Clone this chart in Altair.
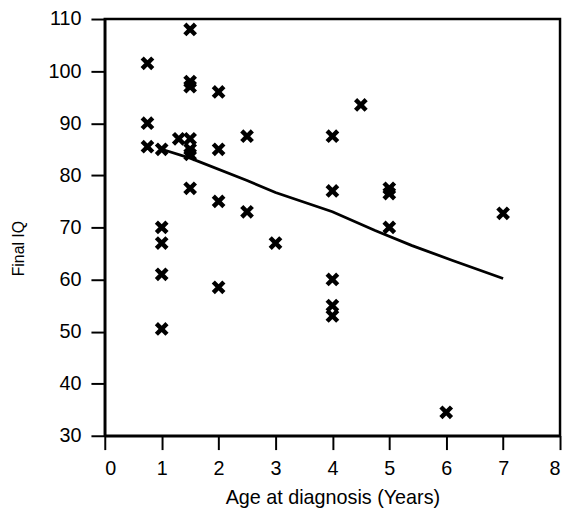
import altair as alt
import pandas as pd

# Scatter data: age at diagnosis (years) and final IQ
age = [0.75, 0.75, 0.75,
       1.0, 1.0, 1.0, 1.0, 1.0,
       1.3,
       1.5, 1.5, 1.5, 1.5, 1.5, 1.5, 1.5,
       2.0, 2.0, 2.0, 2.0,
       2.5, 2.5,
       3.0,
       4.0, 4.0, 4.0, 4.0, 4.0,
       4.5,
       5.0, 5.0, 5.0,
       6.0,
       7.0]
iq = [101.5, 90, 85.5,
      85, 70, 67, 61, 50.5,
      87,
      108, 98, 97, 87, 85, 84, 77.5,
      96, 85, 75, 58.5,
      87.5, 73,
      67,
      87.5, 77, 60, 55, 53,
      93.5,
      77.5, 76.5, 70,
      34.5,
      72.7]

# Fitted curve
fit_age = [1.0, 1.5, 2.5, 3.0, 4.0, 4.75, 5.4, 6.1, 7.0]
fit_iq = [85, 83.3, 79, 76.7, 73, 69.4, 66.5, 63.7, 60.2]

x_ticks = [0, 1, 2, 3, 4, 5, 6, 7, 8]
y_ticks = [30, 40, 50, 60, 70, 80, 90, 100, 110]

pts = pd.DataFrame({"age": age, "iq": iq})
fit = pd.DataFrame({"age": fit_age, "iq": fit_iq})

FONT = "Liberation Sans"

xscale = alt.Scale(domain=[0, 8], nice=False, zero=False)
yscale = alt.Scale(domain=[30, 110], nice=False, zero=False)

xaxis = alt.Axis(values=x_ticks, title="Age at diagnosis (Years)", format="d",
                 labelFontSize=20, labelPadding=9, titleFontSize=20,
                 titleFontWeight="normal", tickSize=14,
                 titleY=69, titleBaseline="alphabetic")
yaxis = alt.Axis(values=y_ticks, title="Final IQ", format="d",
                 labelFontSize=20, labelPadding=10, titleFontSize=16,
                 titleFontWeight="normal", tickSize=14,
                 titleX=-82, titleY=232, titleAngle=-90,
                 titleBaseline="alphabetic", titleAlign="center")

points = alt.Chart(pts).mark_point(
    shape="M-1,-1L1,1M-1,1L1,-1", filled=False, stroke="black",
    strokeWidth=4.5, size=115, opacity=1
).encode(
    x=alt.X("age:Q", scale=xscale, axis=xaxis),
    y=alt.Y("iq:Q", scale=yscale, axis=yaxis),
)

line = alt.Chart(fit).mark_line(color="black", strokeWidth=2.8).encode(
    x=alt.X("age:Q", scale=xscale),
    y=alt.Y("iq:Q", scale=yscale),
)

chart = alt.layer(line, points).properties(
    width=461, height=422,
    padding={"left": 98, "top": 8, "right": 2, "bottom": 72},
    autosize=alt.AutoSizeParams(type="none"),
    background="white",
).configure_view(
    stroke="black", strokeWidth=2.5
).configure_axis(
    grid=False, domainColor="black", domainWidth=2.5,
    tickColor="black", tickWidth=2, tickSize=14,
    labelColor="black", titleColor="black",
    labelFont=FONT, titleFont=FONT, titleFontWeight="normal",
)

chart.save("out.html", embed_options={"renderer": "svg", "actions": False})
